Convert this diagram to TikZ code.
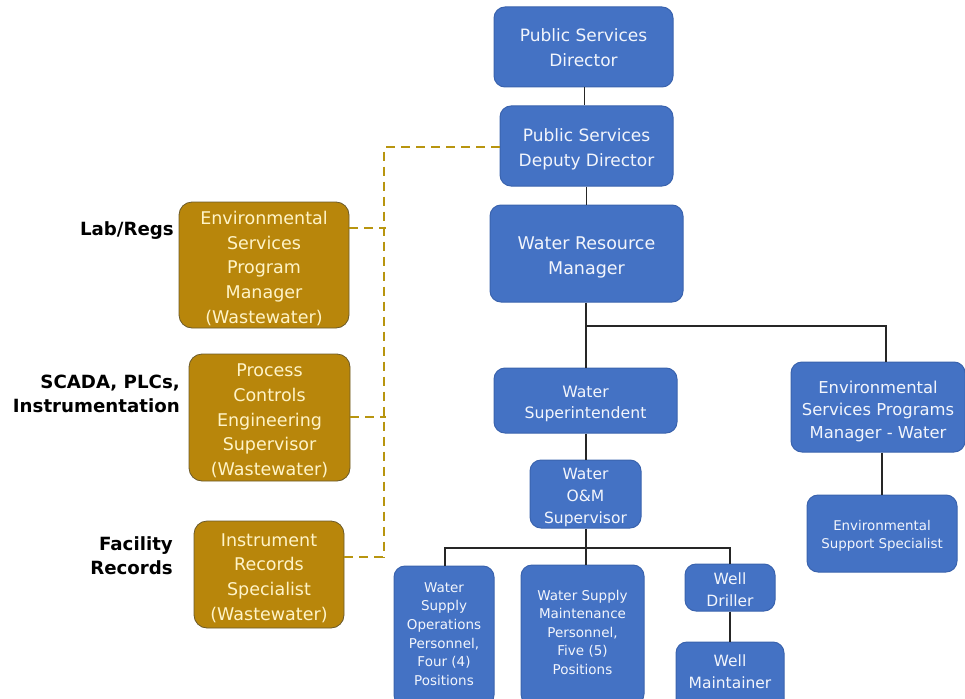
\documentclass[tikz,border=0pt]{standalone}
\usepackage{fontspec}
\setmainfont{DejaVu Sans}
\begin{document}
\begin{tikzpicture}[x=1pt,y=-1pt,
  bluebox/.style={draw=boxedge, fill=boxblue, line width=1pt, rounded corners=11pt, inner sep=0pt},
  goldbox/.style={draw=goldedge, fill=boxgold, line width=0.8pt, rounded corners=13pt, inner sep=0pt},
  btext/.style={text=boxtext, align=center, inner sep=0pt},
  gtext/.style={text=goldtext, align=center, inner sep=0pt, font=\fontsize{17.5}{24.7}\selectfont},
  tag/.style={font=\bfseries\fontsize{18.2}{24}\selectfont, align=right, anchor=east, inner sep=0pt},
  link/.style={draw=black!85, line width=1.3pt},
  dotted link/.style={draw=dashgold, line width=2pt, dash pattern=on 9pt off 6pt}]
\definecolor{boxblue}{HTML}{4472C4}
\definecolor{boxedge}{HTML}{3A63AE}
\definecolor{boxtext}{HTML}{F2F5FC}
\definecolor{boxgold}{HTML}{B8860B}
\definecolor{goldedge}{HTML}{6B5A2A}
\definecolor{goldtext}{HTML}{FFF4C8}
\definecolor{dashgold}{HTML}{B8950F}
\useasboundingbox (0,0) rectangle (965,698);

% main chain
\node[bluebox, minimum width=179pt, minimum height=80pt] (dir) at (583.5,47) {};
\node[btext, font=\fontsize{17}{25}\selectfont] (dir-t) at (583.5,48) {Public Services\\Director};
\node[bluebox, minimum width=173pt, minimum height=80pt] (dep) at (586.5,146) {};
\node[btext, font=\fontsize{17}{25}\selectfont] (dep-t) at (586.5,149) {Public Services\\Deputy Director};
\node[bluebox, minimum width=193pt, minimum height=97pt] (wrm) at (586.5,253.5) {};
\node[btext, font=\fontsize{17.5}{25}\selectfont] (wrm-t) at (586.5,257.5) {Water Resource\\Manager};
\node[bluebox, minimum width=183pt, minimum height=65pt] (sup) at (585.5,400.5) {};
\node[btext, font=\fontsize{15.7}{21}\selectfont] (sup-t) at (585.5,404) {Water\\Superintendent};
\node[bluebox, minimum width=111pt, minimum height=68pt] (om) at (585.5,494) {};
\node[btext, font=\fontsize{15.5}{22}\selectfont] (om-t) at (585.5,497.5) {Water\\O\&M\\Supervisor};

% environmental branch
\node[bluebox, minimum width=174pt, minimum height=90pt] (esm) at (878,407) {};
\node[btext, font=\fontsize{16.4}{22.5}\selectfont] (esm-t) at (878,411) {Environmental\\Services Programs\\Manager - Water};
\node[bluebox, minimum width=150pt, minimum height=77pt] (ess) at (882,533.5) {};
\node[btext, font=\fontsize{13.4}{18}\selectfont] (ess-t) at (882,536) {Environmental\\Support Specialist};

% field staff
\node[bluebox, minimum width=100pt, minimum height=140pt] (ops) at (444,636) {};
\node[btext, font=\fontsize{13.5}{18.6}\selectfont] (ops-t) at (444,634) {Water\\Supply\\Operations\\Personnel,\\Four (4)\\Positions};
\node[bluebox, minimum width=123pt, minimum height=140pt] (mnt) at (582.5,635) {};
\node[btext, font=\fontsize{13.5}{18.5}\selectfont] (mnt-t) at (582.5,632) {Water Supply\\Maintenance\\Personnel,\\Five (5)\\Positions};
\node[bluebox, minimum width=90pt, minimum height=47pt] (drl) at (730,587.5) {};
\node[btext, font=\fontsize{15.5}{22}\selectfont] (drl-t) at (730,590) {Well\\Driller};
\node[bluebox, minimum width=108pt, minimum height=68pt] (mtn) at (730,676) {};
\node[btext, font=\fontsize{15.5}{22}\selectfont] (mtn-t) at (730,671.5) {Well\\Maintainer};

% wastewater dotted-line staff
\node[goldbox, minimum width=170pt, minimum height=126pt] (lab) at (264,265) {};
\node[gtext] (lab-t) at (264,268.5) {Environmental\\Services\\Program\\Manager\\(Wastewater)};
\node[goldbox, minimum width=161pt, minimum height=127pt] (pce) at (269.5,417.5) {};
\node[gtext] (pce-t) at (269.5,421) {Process\\Controls\\Engineering\\Supervisor\\(Wastewater)};
\node[goldbox, minimum width=150pt, minimum height=107pt] (irs) at (269,574.5) {};
\node[gtext] (irs-t) at (269,578) {Instrument\\Records\\Specialist\\(Wastewater)};

% side tags
\node[tag] (t1) at (174,231) {Lab/Regs};
\node[tag] (t2) at (180,394) {SCADA, PLCs,\\Instrumentation};
\node[tag] (t3) at (173,556) {Facility\\Records};

% solid reporting lines
\coordinate (j0) at (584.5,0);
\coordinate (j1) at (586,326);
\coordinate (j2) at (586,548);
\draw[link] (dir.south -| j0) -- (dep.north -| j0);
\draw[link] (dep.south) -- (dep.south |- wrm.north);
\draw[link] (wrm.south -| j1) -- (j1) -- (sup.north -| j1);
\draw[link] (j1) -| (esm.north -| 886,0);
\draw[link] (sup.south -| j1) -- (om.north -| j1);
\draw[link] (om.south -| j2) -- (j2);
\draw[link] (ops.north -| 445,0) |- (j2) -| (drl.north);
\draw[link] (j2) -- (mnt.north -| j2);
\draw[link] (drl.south) -- (mtn.north);
\draw[link] (esm.south -| ess.north) -- (ess.north);

% dotted reporting lines
\coordinate (d0) at (384,147);
\coordinate (d3) at (384,557);
\draw[dotted link] (dep.west |- d0) -- (d0) -- (d3);
\draw[dotted link] (lab.east |- 0,228) -- (386,228);
\draw[dotted link] (pce.east |- 0,417) -- (386,417);
\draw[dotted link] (irs.east |- d3) -- (d3);
\end{tikzpicture}
\end{document}
